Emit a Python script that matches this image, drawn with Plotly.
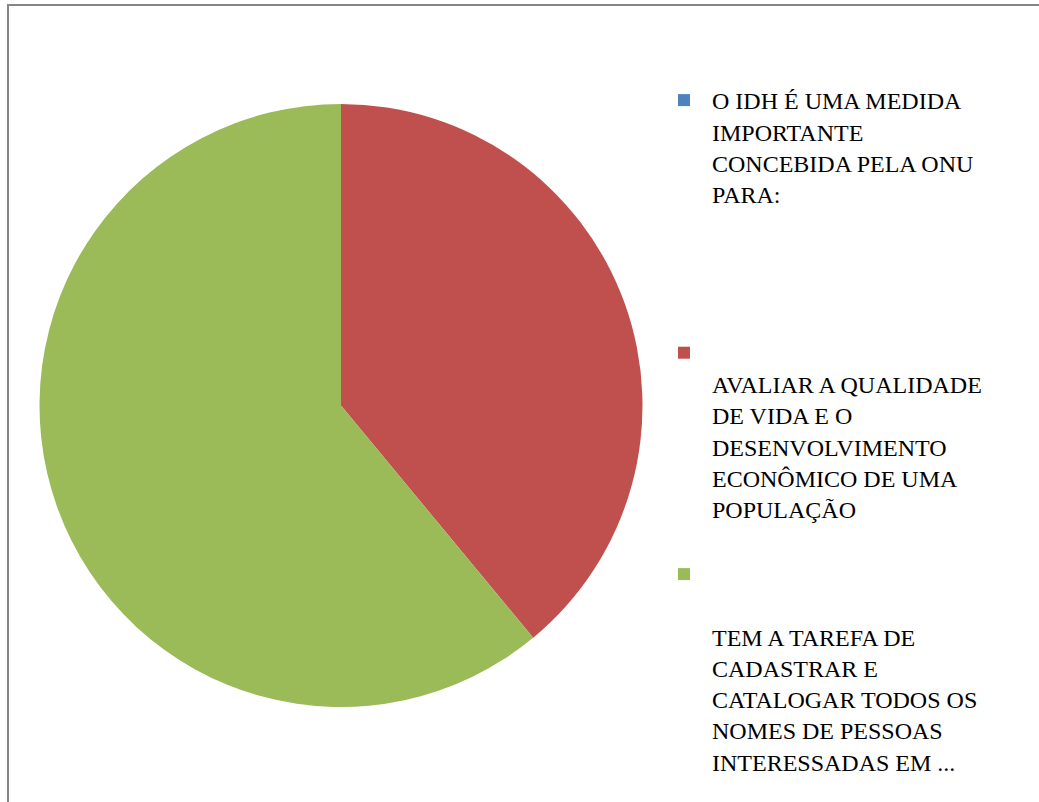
import plotly.graph_objects as go

labels = [
    "O IDH É UMA MEDIDA<br>IMPORTANTE<br>CONCEBIDA PELA ONU<br>PARA:<br> <br> <br> <br> ",
    "<br>AVALIAR A QUALIDADE<br>DE VIDA E O<br>DESENVOLVIMENTO<br>ECONÔMICO DE UMA<br>POPULAÇÃO<br> ",
    "<br><br>TEM A TAREFA DE<br>CADASTRAR E<br>CATALOGAR TODOS OS<br>NOMES DE PESSOAS<br>INTERESSADAS EM ...",
]
values = [0, 39, 61]
colors = ["#4F81BD", "#C0504D", "#9BBB59"]

W, H = 1039, 802

fig = go.Figure(
    go.Pie(
        labels=labels,
        values=values,
        sort=False,
        direction="clockwise",
        rotation=0,
        textinfo="none",
        marker=dict(colors=colors, line=dict(width=0)),
        domain=dict(x=[37.5 / W, 644.5 / W], y=[95 / H, 698 / H]),
        showlegend=True,
    )
)

fig.update_layout(
    width=W,
    height=H,
    margin=dict(l=0, r=0, t=0, b=0),
    paper_bgcolor="white",
    plot_bgcolor="white",
    font=dict(family="Liberation Serif", size=24, color="#000000"),
    legend=dict(
        x=656 / W,
        xanchor="left",
        y=1 - 78 / H,
        yanchor="top",
        valign="top",
        itemwidth=46,
        bgcolor="rgba(0,0,0,0)",
        font=dict(family="Liberation Serif", size=24, color="#000000"),
    ),
    shapes=[
        dict(type="line", xref="paper", yref="paper", x0=7 / W, x1=1, y0=1 - 5 / H, y1=1 - 5 / H,
             line=dict(color="#868686", width=2)),
        dict(type="line", xref="paper", yref="paper", x0=8 / W, x1=8 / W, y0=0, y1=1 - 4 / H,
             line=dict(color="#868686", width=2)),
    ],
)

fig.write_html(
    "out.html",
    config={"displayModeBar": False},
    post_script="document.body.style.margin='0';document.body.style.overflow='hidden';",
)
